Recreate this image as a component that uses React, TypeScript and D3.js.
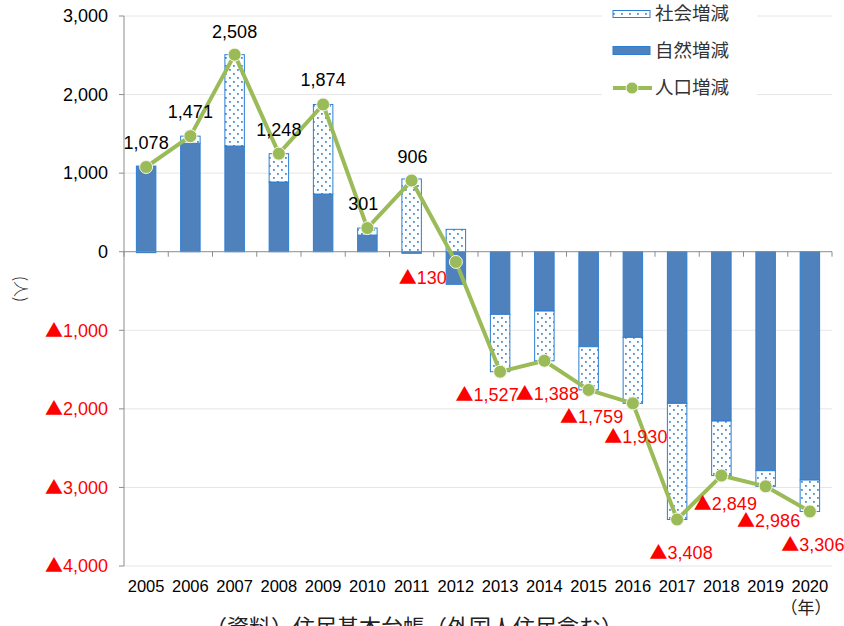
import React from "react";
import * as d3 from "d3";

const years = ["2005","2006","2007","2008","2009","2010","2011","2012","2013","2014","2015","2016","2017","2018","2019","2020"];
const natural = [1090, 1380, 1345, 887, 734, 212, -20, -415, -797, -755, -1209, -1090, -1930, -2155, -2787, -2906];
const social = [-12, 91, 1163, 361, 1140, 89, 926, 285, -730, -633, -550, -840, -1478, -694, -199, -400];
const totals = [1078, 1471, 2508, 1248, 1874, 301, 906, -130, -1527, -1388, -1759, -1930, -3408, -2849, -2986, -3306];
const yTicks = [3000, 2000, 1000, 0, -1000, -2000, -3000, -4000];
const legendLabels = ["社会増減", "自然増減", "人口増減"];
// manual label placements (offsets from the point)
const labelOffsets: [number, number][] = [
  [0, -24], [0, -24], [0, -23], [0, -24], [0, -25], [-4, -24], [1, -24],
  [-33, 16], [-13, 23], [3, 33], [3, 27], [3, 33], [4, 33], [4, 28], [3, 34], [3, 33],
];

const W = 844, H = 626;
const NUM_FONT = "'Liberation Sans', Arial, sans-serif";
const JP_FONT = "'Noto Sans CJK JP', sans-serif";

function fmt(v: number) {
  return d3.format(",")(Math.abs(v));
}

function NumLabel(props: { v: number; x: number; y: number; anchor: string; size: number }) {
  const { v, x, y, anchor, size } = props;
  const neg = v < 0;
  return (
    <text
      x={x}
      y={y}
      dy="0.35em"
      textAnchor={anchor}
      fontFamily={NUM_FONT}
      fontSize={size}
      fill={neg ? "#FF0000" : "#000"}
    >
      {neg ? <tspan fontFamily={JP_FONT} fontSize={size}>▲</tspan> : null}
      {fmt(v)}
    </text>
  );
}

export default function App() {
  const x = d3.scaleBand<string>().domain(years).range([124, 832]).padding(0);
  const y = d3.scaleLinear().domain([-4000, 3000]).range([566, 16]);
  const bw = x.bandwidth() * 0.44;

  const rows = years.map((yr, i) => ({ year: yr, natural: natural[i], social: social[i] }));
  const stack = d3.stack<any>().keys(["natural", "social"]).offset(d3.stackOffsetDiverging);
  const series = stack(rows);

  const line = d3.line<number>()
    .x((_, i) => (x(years[i]) as number) + x.bandwidth() / 2)
    .y((d) => y(d));

  const boundaries = years.map((yr) => x(yr) as number).concat([832]);

  return (
    <svg width={W} height={H} style={{ position: "absolute", left: 0, top: 0, background: "#fff" }}>
      <defs>
        <pattern id="dots" width={8} height={8} patternUnits="userSpaceOnUse">
          <rect width={8} height={8} fill="#ffffff" />
          <rect x={1} y={1} width={1.8} height={1.8} fill="#4A8FD6" />
          <rect x={5} y={5} width={1.8} height={1.8} fill="#4A8FD6" />
        </pattern>
      </defs>
      {/* gridlines */}
      {yTicks.filter((t) => t !== 0).map((t) => (
        <line key={"g" + t} x1={124} x2={832} y1={y(t)} y2={y(t)} stroke="#E6E6E6" strokeWidth={1} />
      ))}
      {/* bars */}
      {series.map((s) => (
        <g key={s.key}>
          {s.map((d, i) => {
            const y0 = y(Math.max(d[0], d[1]));
            const y1 = y(Math.min(d[0], d[1]));
            const cx = (x(years[i]) as number) + x.bandwidth() / 2;
            return (
              <rect
                key={i}
                x={cx - bw / 2}
                y={y0}
                width={bw}
                height={Math.max(0, y1 - y0)}
                fill={s.key === "natural" ? "#4F81BD" : "url(#dots)"}
                stroke="#2A7FD4"
                strokeWidth={1}
              />
            );
          })}
        </g>
      ))}
      {/* y axis */}
      <line x1={124} x2={124} y1={16} y2={566} stroke="#8C8C8C" strokeWidth={1} />
      {yTicks.map((t) => (
        <line key={"yt" + t} x1={119} x2={124} y1={y(t)} y2={y(t)} stroke="#8C8C8C" strokeWidth={1} />
      ))}
      {yTicks.map((t) => (
        <NumLabel key={"yl" + t} v={t} x={108} y={y(t)} anchor="end" size={18} />
      ))}
      {/* x axis (zero line) */}
      <line x1={124} x2={832} y1={y(0)} y2={y(0)} stroke="#8C8C8C" strokeWidth={1} />
      {boundaries.map((bx, i) => (
        <line key={"xt" + i} x1={bx} x2={bx} y1={y(0)} y2={y(0) + 5} stroke="#8C8C8C" strokeWidth={1} />
      ))}
      {years.map((yr) => (
        <text
          key={"xl" + yr}
          x={(x(yr) as number) + x.bandwidth() / 2}
          y={586}
          dy="0.35em"
          textAnchor="middle"
          fontFamily={NUM_FONT}
          fontSize={16.5}
          fill="#000"
        >
          {yr}
        </text>
      ))}
      {/* line */}
      <path d={line(totals) || ""} fill="none" stroke="#9BBB59" strokeWidth={4} strokeLinejoin="round" />
      {totals.map((v, i) => (
        <circle
          key={"c" + i}
          cx={(x(years[i]) as number) + x.bandwidth() / 2}
          cy={y(v)}
          r={6.5}
          fill="#9BBB59"
          stroke="#F2F7EA"
          strokeWidth={1}
        />
      ))}
      {/* data labels */}
      {totals.map((v, i) => {
        const cx = (x(years[i]) as number) + x.bandwidth() / 2;
        const [dx, dyy] = labelOffsets[i];
        return <NumLabel key={"dl" + i} v={v} x={cx + dx} y={y(v) + dyy} anchor="middle" size={18} />;
      })}
      {/* legend */}
      <rect x={602} y={0} width={155} height={104} fill="#fff" />
      <g>
        <rect x={613} y={10.5} width={37} height={7} fill="url(#dots)" stroke="#2A7FD4" strokeWidth={1} />
        <text x={655} y={14} dy="0.35em" fontFamily={JP_FONT} fontSize={18.5} fill="#333">{legendLabels[0]}</text>
        <rect x={613} y={46.5} width={37} height={8} fill="#4F81BD" stroke="#2A7FD4" strokeWidth={1} />
        <text x={655} y={51} dy="0.35em" fontFamily={JP_FONT} fontSize={18.5} fill="#333">{legendLabels[1]}</text>
        <line x1={613} x2={652} y1={88} y2={88} stroke="#9BBB59" strokeWidth={4} />
        <circle cx={632} cy={88} r={6} fill="#9BBB59" stroke="#F2F7EA" strokeWidth={1} />
        <text x={655} y={88} dy="0.35em" fontFamily={JP_FONT} fontSize={18.5} fill="#333">{legendLabels[2]}</text>
      </g>
      {/* axis titles */}
      <text
        transform="translate(21,289) rotate(90)"
        textAnchor="middle"
        dy="0.35em"
        fontFamily={JP_FONT}
        fontSize={16}
        fontWeight={300}
        fill="#222"
      >
        (人)
      </text>
      <text x={806} y={608} dy="0.35em" textAnchor="middle" fontFamily={JP_FONT} fontSize={17} fill="#222">
        （年）
      </text>
      <text x={205} y={635} fontFamily={JP_FONT} fontSize={22} fill="#222">
        （資料）住民基本台帳（外国人住民含む）
      </text>
    </svg>
  );
}
